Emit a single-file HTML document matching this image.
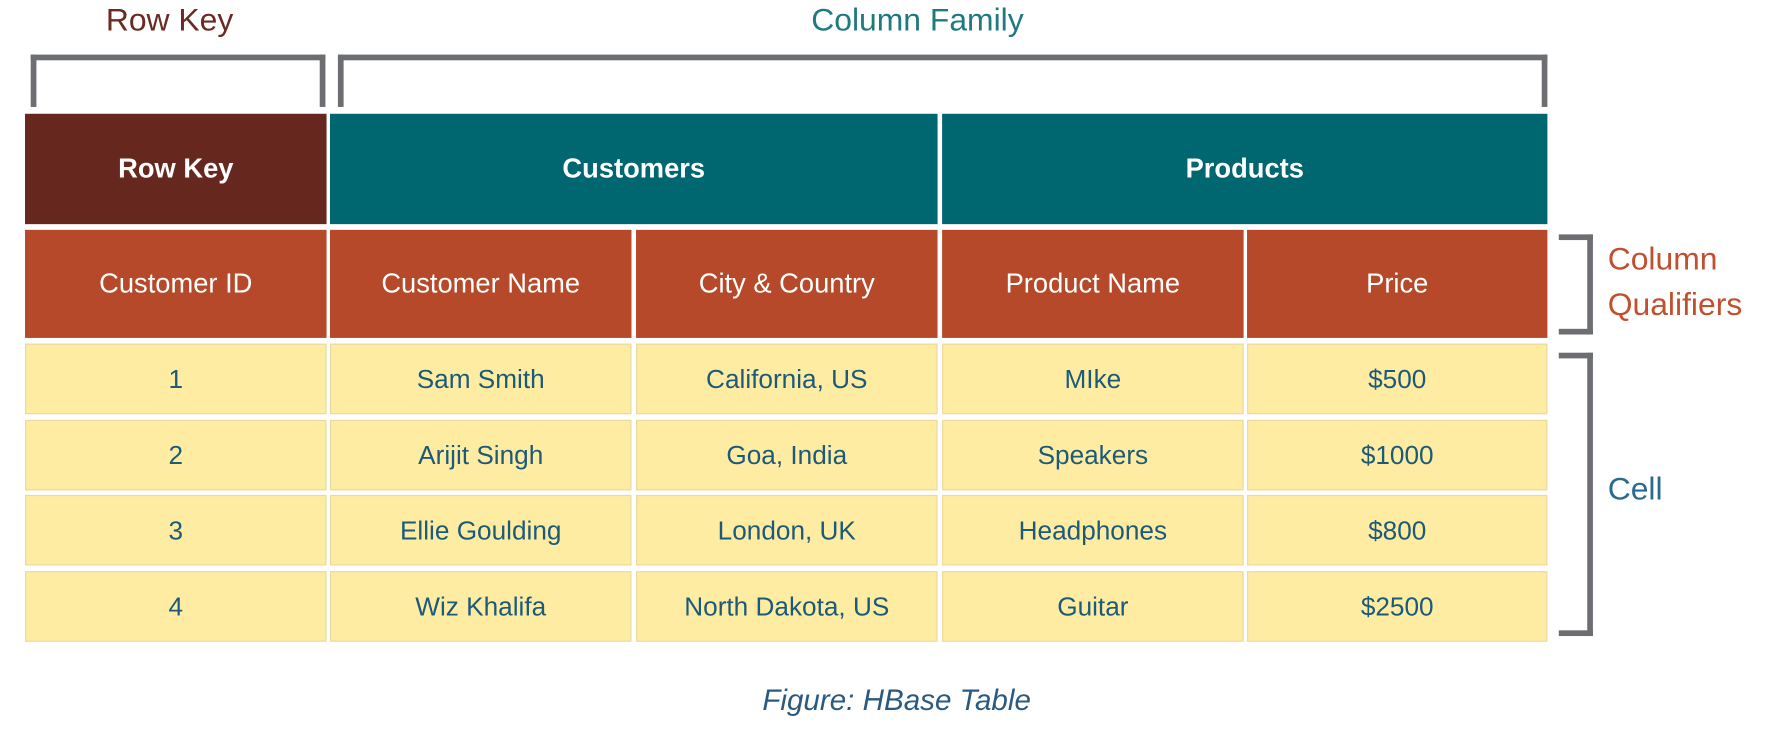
<!DOCTYPE html>
<html><head><meta charset="utf-8"><style>
html,body{margin:0;padding:0;background:#fff;width:1784px;height:730px;overflow:hidden}
#w{position:absolute;left:0;top:0;width:1568px;height:642px;transform:scale(1.1378);transform-origin:0 0;font-family:"Liberation Sans",sans-serif}
.a{position:absolute;box-sizing:border-box;display:flex;align-items:center;justify-content:center;text-align:center}
.h{color:#fff;font-weight:bold;font-size:24px}
.q{background:#b5492a;color:#fff;font-size:24px}
.d{background:#feeca3;border:1px solid #ead9a0;color:#1d5a78;font-size:23px}
.t{position:absolute;font-size:28px;white-space:nowrap}
.br{position:absolute;box-sizing:border-box;border-color:#6d6e71;border-style:solid}
</style></head><body>
<div id="w">
<div class="t" style="left:93px;top:2px;color:#6b2a22">Row Key</div>
<div class="t" style="left:713px;top:2px;color:#1f7a80">Column Family</div>
<div class="br" style="left:27px;top:48px;width:259px;height:46px;border-width:5px 5px 0 5px"></div>
<div class="br" style="left:297px;top:48px;width:1063px;height:46px;border-width:5px 5px 0 5px"></div>
<div class="a h" style="left:22px;top:100px;width:265px;height:97px;background:#66271f">Row Key</div>
<div class="a h" style="left:290px;top:100px;width:534px;height:97px;background:#006670">Customers</div>
<div class="a h" style="left:828px;top:100px;width:532px;height:97px;background:#006670">Products</div>
<div class="a q" style="left:22px;top:202px;width:265px;height:95px">Customer ID</div>
<div class="a q" style="left:290px;top:202px;width:265px;height:95px">Customer Name</div>
<div class="a q" style="left:559px;top:202px;width:265px;height:95px">City &amp; Country</div>
<div class="a q" style="left:828px;top:202px;width:265px;height:95px">Product Name</div>
<div class="a q" style="left:1096px;top:202px;width:264px;height:95px">Price</div>
<div id="rows"></div>
<div class="br" style="left:1370px;top:206px;width:30px;height:88px;border-width:5px 5px 5px 0"></div>
<div class="br" style="left:1370px;top:310px;width:30px;height:249px;border-width:5px 5px 5px 0"></div>
<div class="t" style="left:1413px;top:208px;color:#c0502e;line-height:40px">Column<br>Qualifiers</div>
<div class="t" style="left:1413px;top:414px;color:#2a6a90">Cell</div>
<div class="t" style="left:670px;top:600px;color:#2a5a80;font-style:italic;font-size:26px">Figure: HBase Table</div>
</div>
<script>
const rowsData=[["1","Sam Smith","California, US","MIke","$500"],["2","Arijit Singh","Goa, India","Speakers","$1000"],["3","Ellie Goulding","London, UK","Headphones","$800"],["4","Wiz Khalifa","North Dakota, US","Guitar","$2500"]];
const xs=[22,290,559,828,1096],ws=[265,265,265,265,264],ys=[302,369,435,502];
const c=document.getElementById('rows');
rowsData.forEach((r,i)=>r.forEach((v,j)=>{
const d=document.createElement('div');d.className='a d';
d.style.cssText=`left:${xs[j]}px;top:${ys[i]}px;width:${ws[j]}px;height:62px`;
d.textContent=v;


c.appendChild(d);}));
</script>
</body></html>
